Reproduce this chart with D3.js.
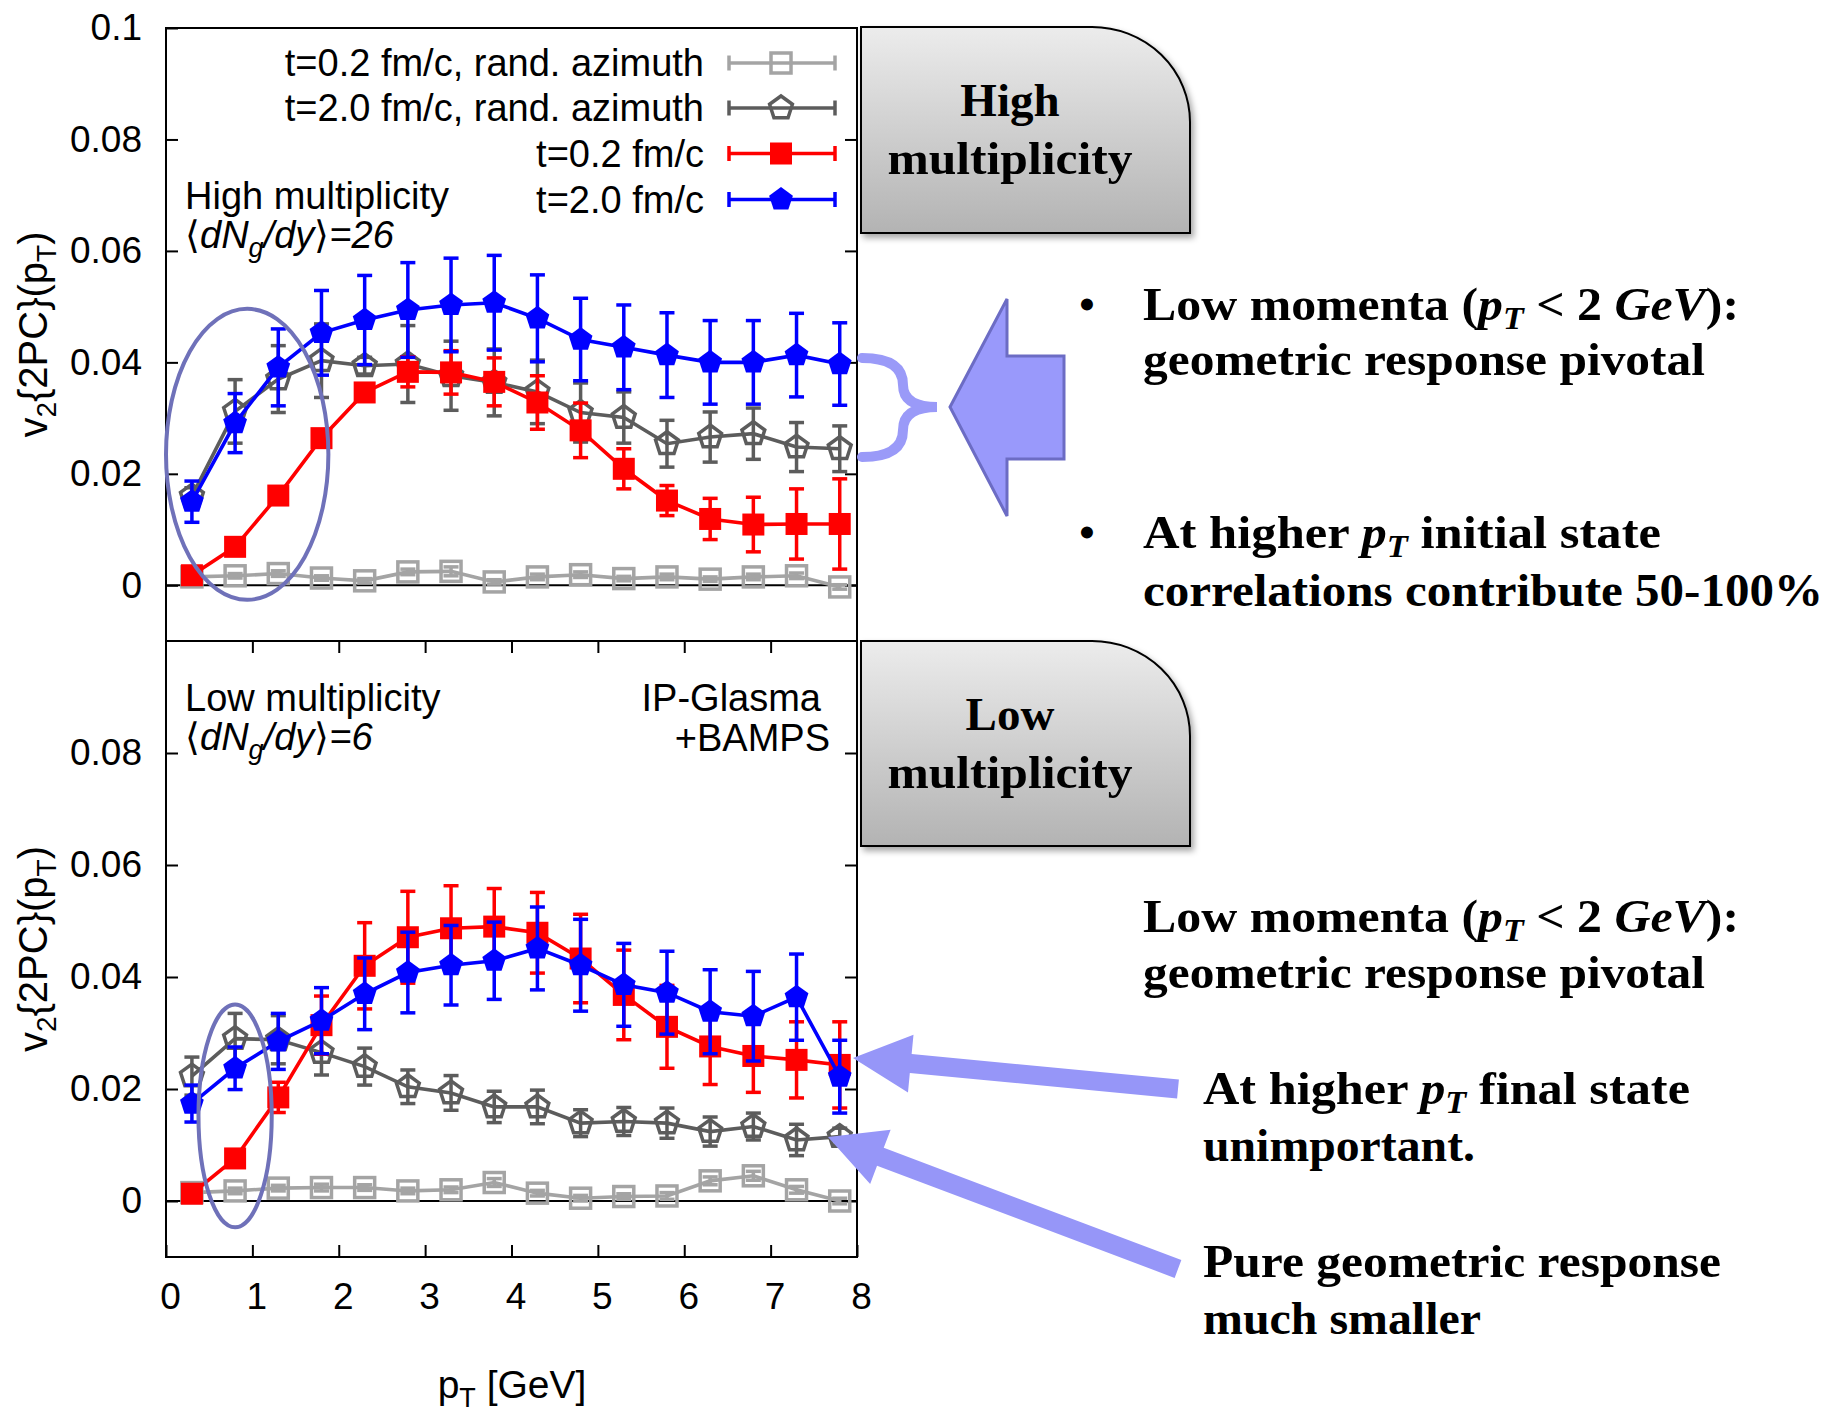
<!DOCTYPE html>
<html>
<head>
<meta charset="utf-8">
<script src="https://cdn.jsdelivr.net/npm/d3@7"></script>
<style>
  body { margin: 0; background: #fff; }
  svg { display: block; }
</style>
</head>
<body>
<div id="chart"></div>
<script>
// pT bin centres [GeV]
var pT = [0.3, 0.8, 1.3, 1.8, 2.3, 2.8, 3.3, 3.8, 4.3, 4.8, 5.3, 5.8, 6.3, 6.8, 7.3, 7.8]

// High multiplicity, <dNg/dy> = 26
var highRand02 = [0.0015, 0.0017, 0.0021, 0.0013, 0.0008, 0.0024, 0.0025, 0.0006, 0.0015, 0.0019, 0.0012, 0.0015, 0.0011, 0.0015, 0.0017, -0.0003]
var highRand02Err = [0.0004, 0.0004, 0.0005, 0.0004, 0.0004, 0.0005, 0.0008, 0.0004, 0.0005, 0.0005, 0.0004, 0.0005, 0.0004, 0.0005, 0.0005, 0.0004]
var highRand20 = [0.0160, 0.0312, 0.0370, 0.0403, 0.0394, 0.0397, 0.0376, 0.0364, 0.0347, 0.0310, 0.0301, 0.0254, 0.0266, 0.0272, 0.0248, 0.0245]
var highRand20Err = [0.0015, 0.0057, 0.0060, 0.0066, 0.0015, 0.0069, 0.0062, 0.0060, 0.0057, 0.0053, 0.0046, 0.0042, 0.0045, 0.0046, 0.0044, 0.0041]
var high02 = [0.0018, 0.0069, 0.0161, 0.0264, 0.0346, 0.0383, 0.0382, 0.0365, 0.0328, 0.0278, 0.0209, 0.0152, 0.0119, 0.0109, 0.0110, 0.0110]
var high02Err = [0.0003, 0.0004, 0.0006, 0.0008, 0.0012, 0.0027, 0.0039, 0.0043, 0.0048, 0.0049, 0.0036, 0.0027, 0.0037, 0.0049, 0.0063, 0.0081]
var high20 = [0.0150, 0.0291, 0.0391, 0.0453, 0.0476, 0.0494, 0.0503, 0.0507, 0.0479, 0.0441, 0.0427, 0.0413, 0.0400, 0.0400, 0.0413, 0.0397]
var high20Err = [0.0037, 0.0053, 0.0069, 0.0076, 0.0080, 0.0085, 0.0084, 0.0085, 0.0078, 0.0074, 0.0076, 0.0076, 0.0075, 0.0075, 0.0075, 0.0074]

// Low multiplicity, <dNg/dy> = 6
var lowRand02 = [0.0015, 0.0018, 0.0023, 0.0024, 0.0024, 0.0018, 0.0020, 0.0033, 0.0014, 0.0005, 0.0008, 0.0009, 0.0036, 0.0045, 0.0020, 0.0000]
var lowRand02Err = [0.0005, 0.0005, 0.0005, 0.0006, 0.0005, 0.0005, 0.0005, 0.0007, 0.0005, 0.0005, 0.0005, 0.0006, 0.0007, 0.0008, 0.0006, 0.0005]
var lowRand20 = [0.0223, 0.0290, 0.0288, 0.0265, 0.0240, 0.0204, 0.0193, 0.0168, 0.0168, 0.0139, 0.0142, 0.0139, 0.0124, 0.0133, 0.0109, 0.0115]
var lowRand20Err = [0.0034, 0.0045, 0.0043, 0.0040, 0.0033, 0.0030, 0.0031, 0.0028, 0.0030, 0.0024, 0.0025, 0.0027, 0.0026, 0.0024, 0.0028, 0.0015]
var low02 = [0.0013, 0.0076, 0.0185, 0.0314, 0.0420, 0.0471, 0.0487, 0.0490, 0.0479, 0.0433, 0.0368, 0.0311, 0.0276, 0.0259, 0.0252, 0.0243]
var low02Err = [0.0003, 0.0005, 0.0027, 0.0052, 0.0077, 0.0082, 0.0076, 0.0068, 0.0072, 0.0079, 0.0080, 0.0074, 0.0068, 0.0065, 0.0068, 0.0077]
var low20 = [0.0174, 0.0237, 0.0285, 0.0322, 0.0370, 0.0408, 0.0421, 0.0429, 0.0451, 0.0421, 0.0386, 0.0372, 0.0338, 0.0330, 0.0364, 0.0222]
var low20Err = [0.0033, 0.0038, 0.0050, 0.0059, 0.0064, 0.0072, 0.0071, 0.0069, 0.0074, 0.0082, 0.0074, 0.0074, 0.0075, 0.0080, 0.0077, 0.0065]

var legendLabels = ['t=0.2 fm/c, rand. azimuth', 't=2.0 fm/c, rand. azimuth', 't=0.2 fm/c', 't=2.0 fm/c']
var xTicks = [0, 1, 2, 3, 4, 5, 6, 7, 8]
var yTicksHigh = [0, 0.02, 0.04, 0.06, 0.08, 0.1]
var yTicksLow = [0, 0.02, 0.04, 0.06, 0.08]

var sansFont = "'Liberation Sans', Arial, sans-serif"
var serifFont = "'Liberation Serif', 'Times New Roman', serif"

var svg = d3.select('#chart').append('svg')
  .attr('width', 1829)
  .attr('height', 1412)

var defs = svg.append('defs')
var grad = defs.append('linearGradient')
  .attr('id', 'boxGrad')
  .attr('x1', 0).attr('y1', 0).attr('x2', 0).attr('y2', 1)
grad.append('stop').attr('offset', '0%').attr('stop-color', '#ececec')
grad.append('stop').attr('offset', '100%').attr('stop-color', '#b3b3b3')
defs.append('filter').attr('id', 'shadow')
  .attr('x', '-10%').attr('y', '-10%').attr('width', '130%').attr('height', '130%')
  .append('feDropShadow')
  .attr('dx', 3).attr('dy', 4).attr('stdDeviation', 3)
  .attr('flood-color', '#000').attr('flood-opacity', 0.35)

var xPositionScale = d3.scaleLinear().domain([0, 8]).range([166, 857])

var styles = [
  { color: '#a4a4a4', marker: 'openSquare' },
  { color: '#5c5c5c', marker: 'openPentagon' },
  { color: '#ff0000', marker: 'square' },
  { color: '#0000ff', marker: 'pentagon' }
]

var panels = [
  {
    top: 28, bottom: 641, yTicks: yTicksHigh,
    series: [[highRand02, highRand02Err], [highRand20, highRand20Err], [high02, high02Err], [high20, high20Err]],
    title: 'High multiplicity', dndy: '26',
    ellipse: { cx: 0.94, cy: 0.0235, rx: 0.94, ry: 0.0261 }
  },
  {
    top: 641, bottom: 1257, yTicks: yTicksLow,
    series: [[lowRand02, lowRand02Err], [lowRand20, lowRand20Err], [low02, low02Err], [low20, low20Err]],
    title: 'Low multiplicity', dndy: '6',
    ellipse: { cx: 0.80, cy: 0.0152, rx: 0.424, ry: 0.0199 }
  }
]

function pentagonPath(r) {
  var pts = d3.range(5).map(function(k) {
    var a = -Math.PI / 2 + (k * 2 * Math.PI) / 5
    return [r * Math.cos(a), r * Math.sin(a)]
  })
  return 'M' + pts.join('L') + 'Z'
}

function drawMarker(g, x, y, style) {
  if (style.marker === 'openSquare') {
    g.append('rect').attr('x', x - 10).attr('y', y - 10).attr('width', 20).attr('height', 20)
      .attr('fill', 'none').attr('stroke', style.color).attr('stroke-width', 3.5)
  } else if (style.marker === 'square') {
    g.append('rect').attr('x', x - 11).attr('y', y - 11).attr('width', 22).attr('height', 22)
      .attr('fill', style.color)
  } else if (style.marker === 'openPentagon') {
    g.append('path').attr('d', pentagonPath(12)).attr('transform', `translate(${x},${y})`)
      .attr('fill', 'none').attr('stroke', style.color).attr('stroke-width', 3.5)
  } else {
    g.append('path').attr('d', pentagonPath(12.5)).attr('transform', `translate(${x},${y})`)
      .attr('fill', style.color)
  }
}

panels.forEach(function(p, pi) {
  var yPositionScale = d3.scaleLinear().domain([-0.01, 0.1]).range([p.bottom, p.top])
  var g = svg.append('g')

  // frame
  g.append('rect')
    .attr('x', xPositionScale(0)).attr('y', p.top)
    .attr('width', xPositionScale(8) - xPositionScale(0))
    .attr('height', p.bottom - p.top)
    .attr('fill', 'none').attr('stroke', '#000').attr('stroke-width', 2)

  // axes with inward ticks
  var yAxis = d3.axisLeft(yPositionScale).tickValues(p.yTicks)
    .tickSize(-12).tickPadding(24).tickFormat(d3.format('.2~f'))
  g.append('g').attr('class', 'axis y-axis')
    .attr('transform', `translate(${xPositionScale(0)},0)`)
    .call(yAxis)
  var yAxisRight = d3.axisRight(yPositionScale).tickValues(p.yTicks.filter(d => d < 0.1))
    .tickSize(-12).tickFormat('')
  g.append('g').attr('class', 'axis')
    .attr('transform', `translate(${xPositionScale(8)},0)`)
    .call(yAxisRight)

  if (pi === 1) {
    var xAxis = d3.axisBottom(xPositionScale).tickValues(xTicks)
      .tickSize(-12).tickPadding(26).tickFormat(d3.format('d'))
    g.append('g').attr('class', 'axis x-axis')
      .attr('transform', `translate(0,${p.bottom})`)
      .call(xAxis)
    var xAxisTop = d3.axisTop(xPositionScale).tickValues(xTicks.slice(1, -1))
      .tickSize(-12).tickFormat('')
    g.append('g').attr('class', 'axis')
      .attr('transform', `translate(0,${p.top})`)
      .call(xAxisTop)
  }

  g.selectAll('.axis .domain').remove()
  g.selectAll('.axis line').attr('stroke', '#000').attr('stroke-width', 2)
  g.selectAll('.axis text').attr('font-family', sansFont).attr('font-size', 37).attr('fill', '#000')
  g.selectAll('.x-axis text').attr('dx', 4)

  // zero line
  g.append('line')
    .attr('x1', xPositionScale(0)).attr('x2', xPositionScale(8))
    .attr('y1', yPositionScale(0)).attr('y2', yPositionScale(0))
    .attr('stroke', '#000').attr('stroke-width', 2)

  // series
  var line = d3.line()
    .x((d, i) => xPositionScale(pT[i]))
    .y(d => yPositionScale(d))

  p.series.forEach(function(s, si) {
    var style = styles[si]
    var values = s[0]
    var errs = s[1]
    var sg = g.append('g')
    values.forEach(function(v, i) {
      var x = xPositionScale(pT[i])
      var y1 = yPositionScale(v + errs[i])
      var y2 = yPositionScale(v - errs[i])
      sg.append('line').attr('x1', x).attr('x2', x).attr('y1', y1).attr('y2', y2)
        .attr('stroke', style.color).attr('stroke-width', 3.5)
      ;[y1, y2].forEach(function(yy) {
        sg.append('line').attr('x1', x - 7.5).attr('x2', x + 7.5).attr('y1', yy).attr('y2', yy)
          .attr('stroke', style.color).attr('stroke-width', 3.5)
      })
    })
    sg.append('path').datum(values).attr('d', line)
      .attr('fill', 'none').attr('stroke', style.color).attr('stroke-width', 3.6)
    values.forEach(function(v, i) {
      drawMarker(sg, xPositionScale(pT[i]), yPositionScale(v), style)
    })
  })

  // ellipse highlighting low pT
  var e = p.ellipse
  g.append('ellipse')
    .attr('cx', xPositionScale(e.cx)).attr('cy', yPositionScale(e.cy))
    .attr('rx', xPositionScale(e.rx) - xPositionScale(0))
    .attr('ry', yPositionScale(0) - yPositionScale(e.ry))
    .attr('fill', 'none').attr('stroke', '#6f71b9').attr('stroke-width', 4)

  // y label
  var cy = (p.top + p.bottom) / 2
  var yl = g.append('text')
    .attr('transform', `translate(47,${cy}) rotate(-90)`)
    .attr('text-anchor', 'middle')
    .attr('font-family', sansFont).attr('font-size', 40)
  yl.append('tspan').text('v')
  yl.append('tspan').attr('font-size', 28).attr('dy', 9).text('2')
  yl.append('tspan').attr('dy', -9).text('{2PC}(p')
  yl.append('tspan').attr('font-size', 28).attr('dy', 9).text('T')
  yl.append('tspan').attr('dy', -9).text(')')

  // panel annotation
  var tBase = pi === 0 ? 209 : 711
  g.append('text').attr('x', 185).attr('y', tBase)
    .attr('font-family', sansFont).attr('font-size', 38).text(p.title)
  var dn = g.append('text').attr('x', 185).attr('y', tBase + 39)
    .attr('font-family', sansFont).attr('font-size', 38).attr('font-style', 'italic')
  dn.append('tspan').attr('font-style', 'normal').text('\u27E8')
  dn.append('tspan').text('dN')
  dn.append('tspan').attr('font-size', 27).attr('dy', 9).text('g')
  dn.append('tspan').attr('dy', -9).text('/dy')
  dn.append('tspan').attr('font-style', 'normal').text('\u27E9')
  dn.append('tspan').text('=' + p.dndy)

  if (pi === 1) {
    g.append('text').attr('x', 821).attr('y', tBase).attr('text-anchor', 'end')
      .attr('font-family', sansFont).attr('font-size', 38).text('IP-Glasma')
    g.append('text').attr('x', 830).attr('y', tBase + 40).attr('text-anchor', 'end')
      .attr('font-family', sansFont).attr('font-size', 38).text('+BAMPS')
  }

  if (pi === 0) {
    var rows = [63, 108, 153.5, 199.5]
    legendLabels.forEach(function(label, i) {
      var style = styles[i]
      var ry = rows[i]
      g.append('text').attr('x', 704).attr('y', ry + 13).attr('text-anchor', 'end')
        .attr('font-family', sansFont).attr('font-size', 38).text(label)
      g.append('line').attr('x1', 729).attr('x2', 835).attr('y1', ry).attr('y2', ry)
        .attr('stroke', style.color).attr('stroke-width', 3.6)
      ;[729, 835].forEach(function(xx) {
        g.append('line').attr('x1', xx).attr('x2', xx).attr('y1', ry - 7.5).attr('y2', ry + 7.5)
          .attr('stroke', style.color).attr('stroke-width', 3.5)
      })
      drawMarker(g, 781, ry, style)
    })
  }
})

// x label
var xl = svg.append('text').attr('x', 512).attr('y', 1398).attr('text-anchor', 'middle')
  .attr('font-family', sansFont).attr('font-size', 39)
xl.append('tspan').text('p')
xl.append('tspan').attr('font-size', 27).attr('dy', 9).text('T')
xl.append('tspan').attr('dy', -9).text(' [GeV]')

// callout boxes
function callout(top, bottom, word) {
  var x0 = 861, x1 = 1190, rx = 98, ry = 95
  svg.append('path')
    .attr('d', `M${x0},${top}H${x1 - rx}A${rx},${ry} 0 0 1 ${x1},${top + ry}V${bottom}H${x0}Z`)
    .attr('fill', 'url(#boxGrad)').attr('stroke', '#000').attr('stroke-width', 2)
    .attr('filter', 'url(#shadow)')
  svg.append('text').attr('x', 1010).attr('y', top + 89).attr('text-anchor', 'middle')
    .attr('font-family', serifFont).attr('font-weight', 'bold').attr('font-size', 47)
    .text(word)
  svg.append('text').attr('x', 1010).attr('y', top + 147).attr('text-anchor', 'middle')
    .attr('font-family', serifFont).attr('font-weight', 'bold').attr('font-size', 47)
    .attr('textLength', 245).attr('lengthAdjust', 'spacingAndGlyphs').text('multiplicity')
}
callout(27, 233, 'High')
callout(641, 846, 'Low')

// right-hand notes
function note(x, y, len, parts) {
  var t = svg.append('text').attr('x', x).attr('y', y)
    .attr('font-family', serifFont).attr('font-weight', 'bold').attr('font-size', 47)
    .attr('textLength', len).attr('lengthAdjust', 'spacingAndGlyphs')
  parts.forEach(function(part) {
    var ts = t.append('tspan').text(part[0])
    if (part[1] === 'i') ts.attr('font-style', 'italic')
    if (part[1] === 'sub') ts.attr('font-style', 'italic').attr('font-size', 32).attr('dy', 9)
    if (part[1] === 'up') ts.attr('dy', -9)
  })
}
note(1143, 320, 596, [['Low momenta ('], ['p', 'i'], ['T', 'sub'], [' < 2 ', 'up'], ['GeV', 'i'], ['):']])
note(1143, 375, 562, [['geometric response pivotal']])
note(1143, 548, 518, [['At higher '], ['p', 'i'], ['T', 'sub'], [' initial state', 'up']])
note(1143, 606, 680, [['correlations contribute 50-100%']])
note(1143, 932, 596, [['Low momenta ('], ['p', 'i'], ['T', 'sub'], [' < 2 ', 'up'], ['GeV', 'i'], ['):']])
note(1143, 988, 562, [['geometric response pivotal']])
note(1203, 1104, 487, [['At higher '], ['p', 'i'], ['T', 'sub'], [' final state', 'up']])
note(1203, 1161, 272, [['unimportant.']])
note(1203, 1277, 518, [['Pure geometric response']])
note(1203, 1334, 278, [['much smaller']])
;[319, 547].forEach(function(by) {
  svg.append('text').attr('x', 1087).attr('y', by).attr('text-anchor', 'middle')
    .attr('font-family', serifFont).attr('font-weight', 'bold').attr('font-size', 44).text('\u2022')
})

// brace and block arrow (upper panel)
svg.append('path')
  .attr('d', 'M862,358 Q903,358 903,385 Q903,407 937,407 Q903,407 903,430 Q903,457 862,457')
  .attr('fill', 'none').attr('stroke', '#9a9af8').attr('stroke-width', 10).attr('stroke-linecap', 'round')
svg.append('polygon')
  .attr('points', '950,407 1007,299 1007,356 1064,356 1064,459 1007,459 1007,516')
  .attr('fill', '#9999fb').attr('stroke', '#6c6cc4').attr('stroke-width', 3)

// arrows (lower panel)
function arrow(tip, tail, shaftW, headLen, headW) {
  var dx = tail[0] - tip[0], dy = tail[1] - tip[1]
  var L = Math.sqrt(dx * dx + dy * dy)
  var ux = dx / L, uy = dy / L
  var nx = -uy, ny = ux
  var bx = tip[0] + ux * headLen, by = tip[1] + uy * headLen
  var pts = [
    tip,
    [bx + nx * headW / 2, by + ny * headW / 2],
    [bx + nx * shaftW / 2, by + ny * shaftW / 2],
    [tail[0] + nx * shaftW / 2, tail[1] + ny * shaftW / 2],
    [tail[0] - nx * shaftW / 2, tail[1] - ny * shaftW / 2],
    [bx - nx * shaftW / 2, by - ny * shaftW / 2],
    [bx - nx * headW / 2, by - ny * headW / 2]
  ]
  svg.append('polygon').attr('points', pts.map(d => d.join(',')).join(' '))
    .attr('fill', '#9696f8')
}
arrow([853, 1058], [1178, 1089], 19, 58, 58)
arrow([828, 1137], [1178, 1269], 19, 56, 58)
</script>
</body>
</html>
